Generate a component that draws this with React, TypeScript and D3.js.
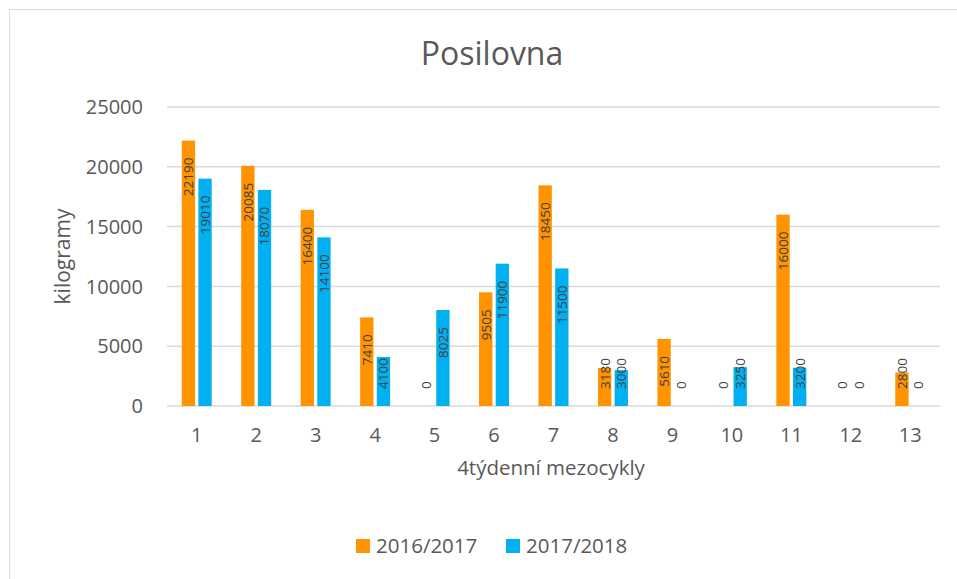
import { useMemo } from 'react';
import * as d3 from 'd3';

// 4-week mesocycles
const categories = ['1', '2', '3', '4', '5', '6', '7', '8', '9', '10', '11', '12', '13'];
const season2016 = [22190, 20085, 16400, 7410, 0, 9505, 18450, 3180, 5610, 0, 16000, 0, 2800];
const season2017 = [19010, 18070, 14100, 4100, 8025, 11900, 11500, 3000, 0, 3250, 3200, 0, 0];
const seriesNames = ['2016/2017', '2017/2018'];
const seriesColors = ['#FF9300', '#00B0F0'];
const yTicks = [0, 5000, 10000, 15000, 20000, 25000];

const W = 957;
const H = 579;
const FONT = '"Open Sans", "DejaVu Sans", sans-serif';
const LABEL_SIZE = 13.5;

export default function App() {
  const plot = { left: 167, right: 940, top: 107, bottom: 406 };

  const x = useMemo(
    () => d3.scaleBand<string>().domain(categories).range([plot.left, plot.right]).paddingInner(0),
    []
  );
  const y = useMemo(
    () => d3.scaleLinear().domain([0, 25000]).range([plot.bottom, plot.top]),
    []
  );

  const band = x.bandwidth();
  const barW = band * 0.224;
  const gap = band * 0.056;

  const series = [season2016, season2017];

  // excel style "inside end" labels, pushed up when the bar is too short
  const labelTop = (v: number) => {
    const len = String(v).length * 0.572 * LABEL_SIZE;
    return Math.min(y(v) + 17, plot.bottom - 17 - len);
  };

  const legendItems = [
    { name: seriesNames[0], color: seriesColors[0], x: 356 },
    { name: seriesNames[1], color: seriesColors[1], x: 506 },
  ];

  return (
    <div style={{ position: 'fixed', left: 0, top: 0 }}>
      <svg width={W} height={H} style={{ display: 'block', background: '#fff' }}>
        {/* chart area border */}
        <rect x={9.5} y={9.5} width={1000} height={1000} fill="#fff" stroke="#D9D9D9" strokeWidth={1} />

        <text x={492} y={65} textAnchor="middle" fontFamily={FONT} fontSize={32} fill="#595959">
          Posilovna
        </text>

        {/* gridlines */}
        {yTicks.map((t) => (
          <line
            key={t}
            x1={plot.left}
            x2={plot.right}
            y1={y(t)}
            y2={y(t)}
            stroke="#D9D9D9"
            strokeWidth={1.5}
          />
        ))}

        {/* y tick labels */}
        {yTicks.map((t) => (
          <text
            key={'yt' + t}
            x={143}
            y={y(t)}
            dy="0.36em"
            textAnchor="end"
            fontFamily={FONT}
            fontSize={20}
            fill="#595959"
          >
            {t}
          </text>
        ))}

        {/* bars */}
        {series.map((vals, si) =>
          vals.map((v, i) => {
            const c = x(categories[i])! + band / 2;
            const bx = si === 0 ? c - gap / 2 - barW : c + gap / 2;
            return (
              <rect
                key={`b${si}-${i}`}
                x={bx}
                y={y(v)}
                width={barW}
                height={plot.bottom - y(v)}
                fill={seriesColors[si]}
              />
            );
          })
        )}

        {/* data labels */}
        {series.map((vals, si) =>
          vals.map((v, i) => {
            const c = x(categories[i])! + band / 2;
            const lx = si === 0 ? c - gap / 2 - barW / 2 : c + gap / 2 + barW / 2;
            const ly = labelTop(v);
            return (
              <text
                key={`l${si}-${i}`}
                transform={`translate(${lx},${ly}) rotate(-90)`}
                dy="0.36em"
                textAnchor="end"
                fontFamily={FONT}
                fontSize={LABEL_SIZE}
                fill="#404040"
              >
                {v}
              </text>
            );
          })
        )}

        {/* x tick labels */}
        {categories.map((c) => (
          <text
            key={'xt' + c}
            x={x(c)! + band / 2}
            y={442}
            textAnchor="middle"
            fontFamily={FONT}
            fontSize={20}
            fill="#595959"
          >
            {c}
          </text>
        ))}

        {/* axis titles */}
        <text
          x={551}
          y={475}
          textAnchor="middle"
          fontFamily={FONT}
          fontSize={20.5}
          fill="#595959"
        >
          4týdenní mezocykly
        </text>
        <text
          transform={`translate(70,${(plot.top + plot.bottom) / 2}) rotate(-90)`}
          textAnchor="middle"
          fontFamily={FONT}
          fontSize={21}
          fill="#595959"
        >
          kilogramy
        </text>

        {/* legend */}
        {legendItems.map((d) => (
          <g key={d.name}>
            <rect x={d.x} y={539} width={14} height={14} fill={d.color} />
            <text x={d.x + 20} y={553} fontFamily={FONT} fontSize={20.5} fill="#595959">
              {d.name}
            </text>
          </g>
        ))}
      </svg>
    </div>
  );
}
